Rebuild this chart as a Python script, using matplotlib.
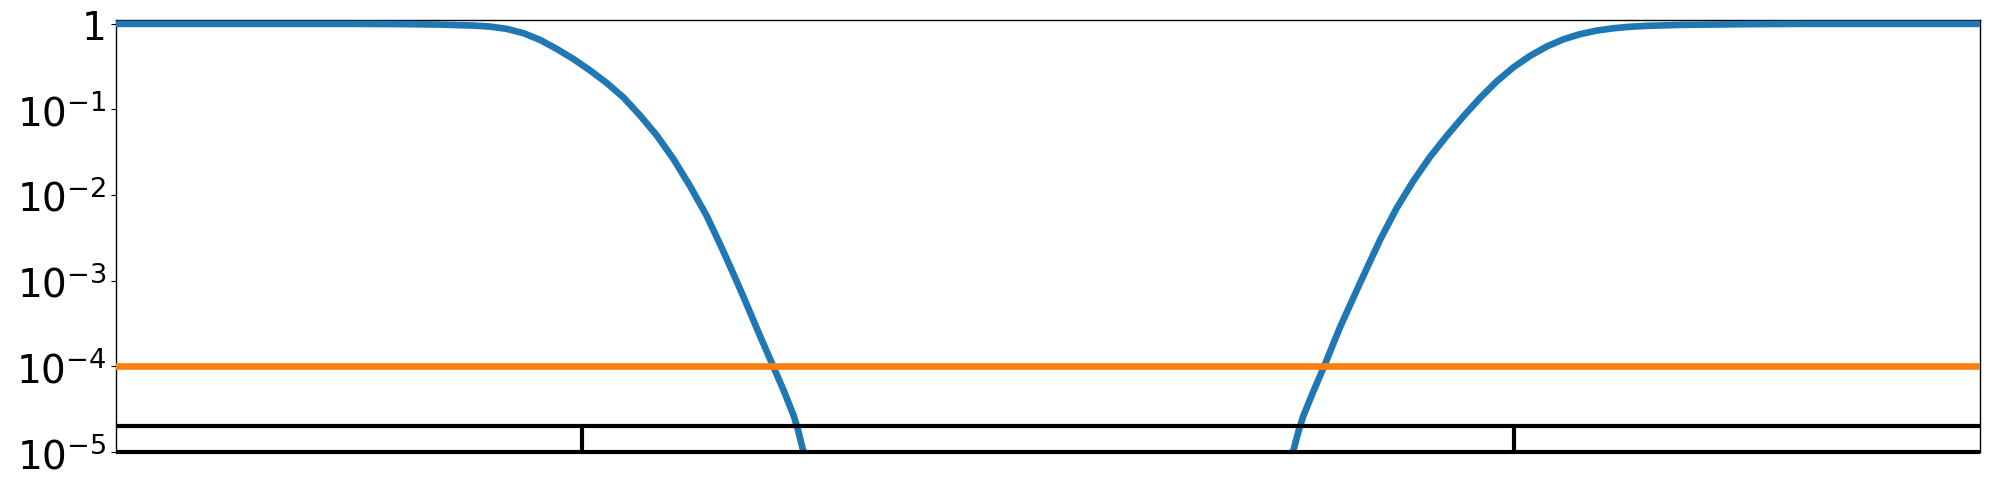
import matplotlib
matplotlib.use("Agg")
import matplotlib.pyplot as plt

# blue curve (x on a 0..1 axis, y value); the part
# below 1e-5 in the middle is off the chart
left_x = [0.0, 0.1255, 0.1524, 0.1738, 0.1917, 0.2006, 0.2096, 0.2185, 0.2275,
          0.2364, 0.2453, 0.2543, 0.2632, 0.2722, 0.2811, 0.2901, 0.2990,
          0.3079, 0.3169, 0.3240, 0.3310, 0.3364, 0.3455, 0.3526, 0.3584,
          0.3636, 0.3659, 0.3684, 0.3702]
left_y = [1.0, 1.0, 0.995, 0.981, 0.955, 0.930, 0.874, 0.779, 0.650,
          0.510, 0.390, 0.286, 0.2045, 0.1384, 0.0853, 0.0498, 0.02648,
          0.01281, 0.005715, 0.002691, 0.001234, 6.645e-4, 2.265e-4, 1.0e-4, 5.09e-5,
          2.634e-5, 1.807e-5, 1.084e-5, 7.44e-6]

right_x = [0.6298, 0.6316, 0.6344, 0.6370, 0.6422, 0.6481, 0.6567, 0.6674,
           0.6781, 0.6871, 0.6960, 0.7049, 0.7139, 0.7228, 0.7318, 0.7407,
           0.7496, 0.7586, 0.7675, 0.7764, 0.7854, 0.7944, 0.8033, 0.8122,
           0.8212, 0.8391, 0.8748, 0.9034, 1.0]
right_y = [7.24e-6, 1.036e-5, 1.759e-5, 2.655e-5, 5.02e-5, 1.0e-4, 2.886e-4, 9.425e-4,
           2.996e-3, 7.088e-3, 0.01465, 0.02794, 0.04914, 0.08306, 0.1366, 0.2130,
           0.3102, 0.4228, 0.5431, 0.6592, 0.7579, 0.8349, 0.8883, 0.9249,
           0.9476, 0.9734, 0.992, 1.0, 1.0]

threshold = 1e-4
box_low, box_high = 1e-5, 2e-5
box_dividers = [0.25, 0.75]
x_range = (0.0, 1.0)
y_range = (1e-5, 1.1)
y_tick_vals = [1e-5, 1e-4, 1e-3, 1e-2, 1e-1, 1]
y_tick_labels = [r"$10^{-5}$", r"$10^{-4}$", r"$10^{-3}$", r"$10^{-2}$", r"$10^{-1}$", "1"]

fig = plt.figure(figsize=(19.9, 4.89), dpi=100)
ax = fig.add_axes([0.0583, 0.0736, 0.9367, 0.8828])

blue = "#1f77b4"
ax.plot(left_x, left_y, color=blue, lw=4.8, solid_capstyle="butt",
        solid_joinstyle="round", zorder=3)
ax.plot(right_x, right_y, color=blue, lw=4.8, solid_capstyle="butt",
        solid_joinstyle="round", zorder=3)
ax.axhline(threshold, color="#ff7f0e", lw=4.8, zorder=3)

# bottom box with dividers
ax.hlines([box_low, box_high], x_range[0], x_range[1], color="black", lw=3,
          zorder=4, clip_on=False)
ax.vlines(box_dividers, box_low, box_high, color="black", lw=3, zorder=4)

ax.set_yscale("log")
ax.set_xlim(*x_range)
ax.set_ylim(*y_range)
ax.set_yticks(y_tick_vals)
ax.set_yticklabels(y_tick_labels)
ax.tick_params(axis="y", labelsize=28)
ax.set_xticks([])
for s in ax.spines.values():
    s.set_linewidth(1.0)

fig.savefig("out.png", dpi=100)
